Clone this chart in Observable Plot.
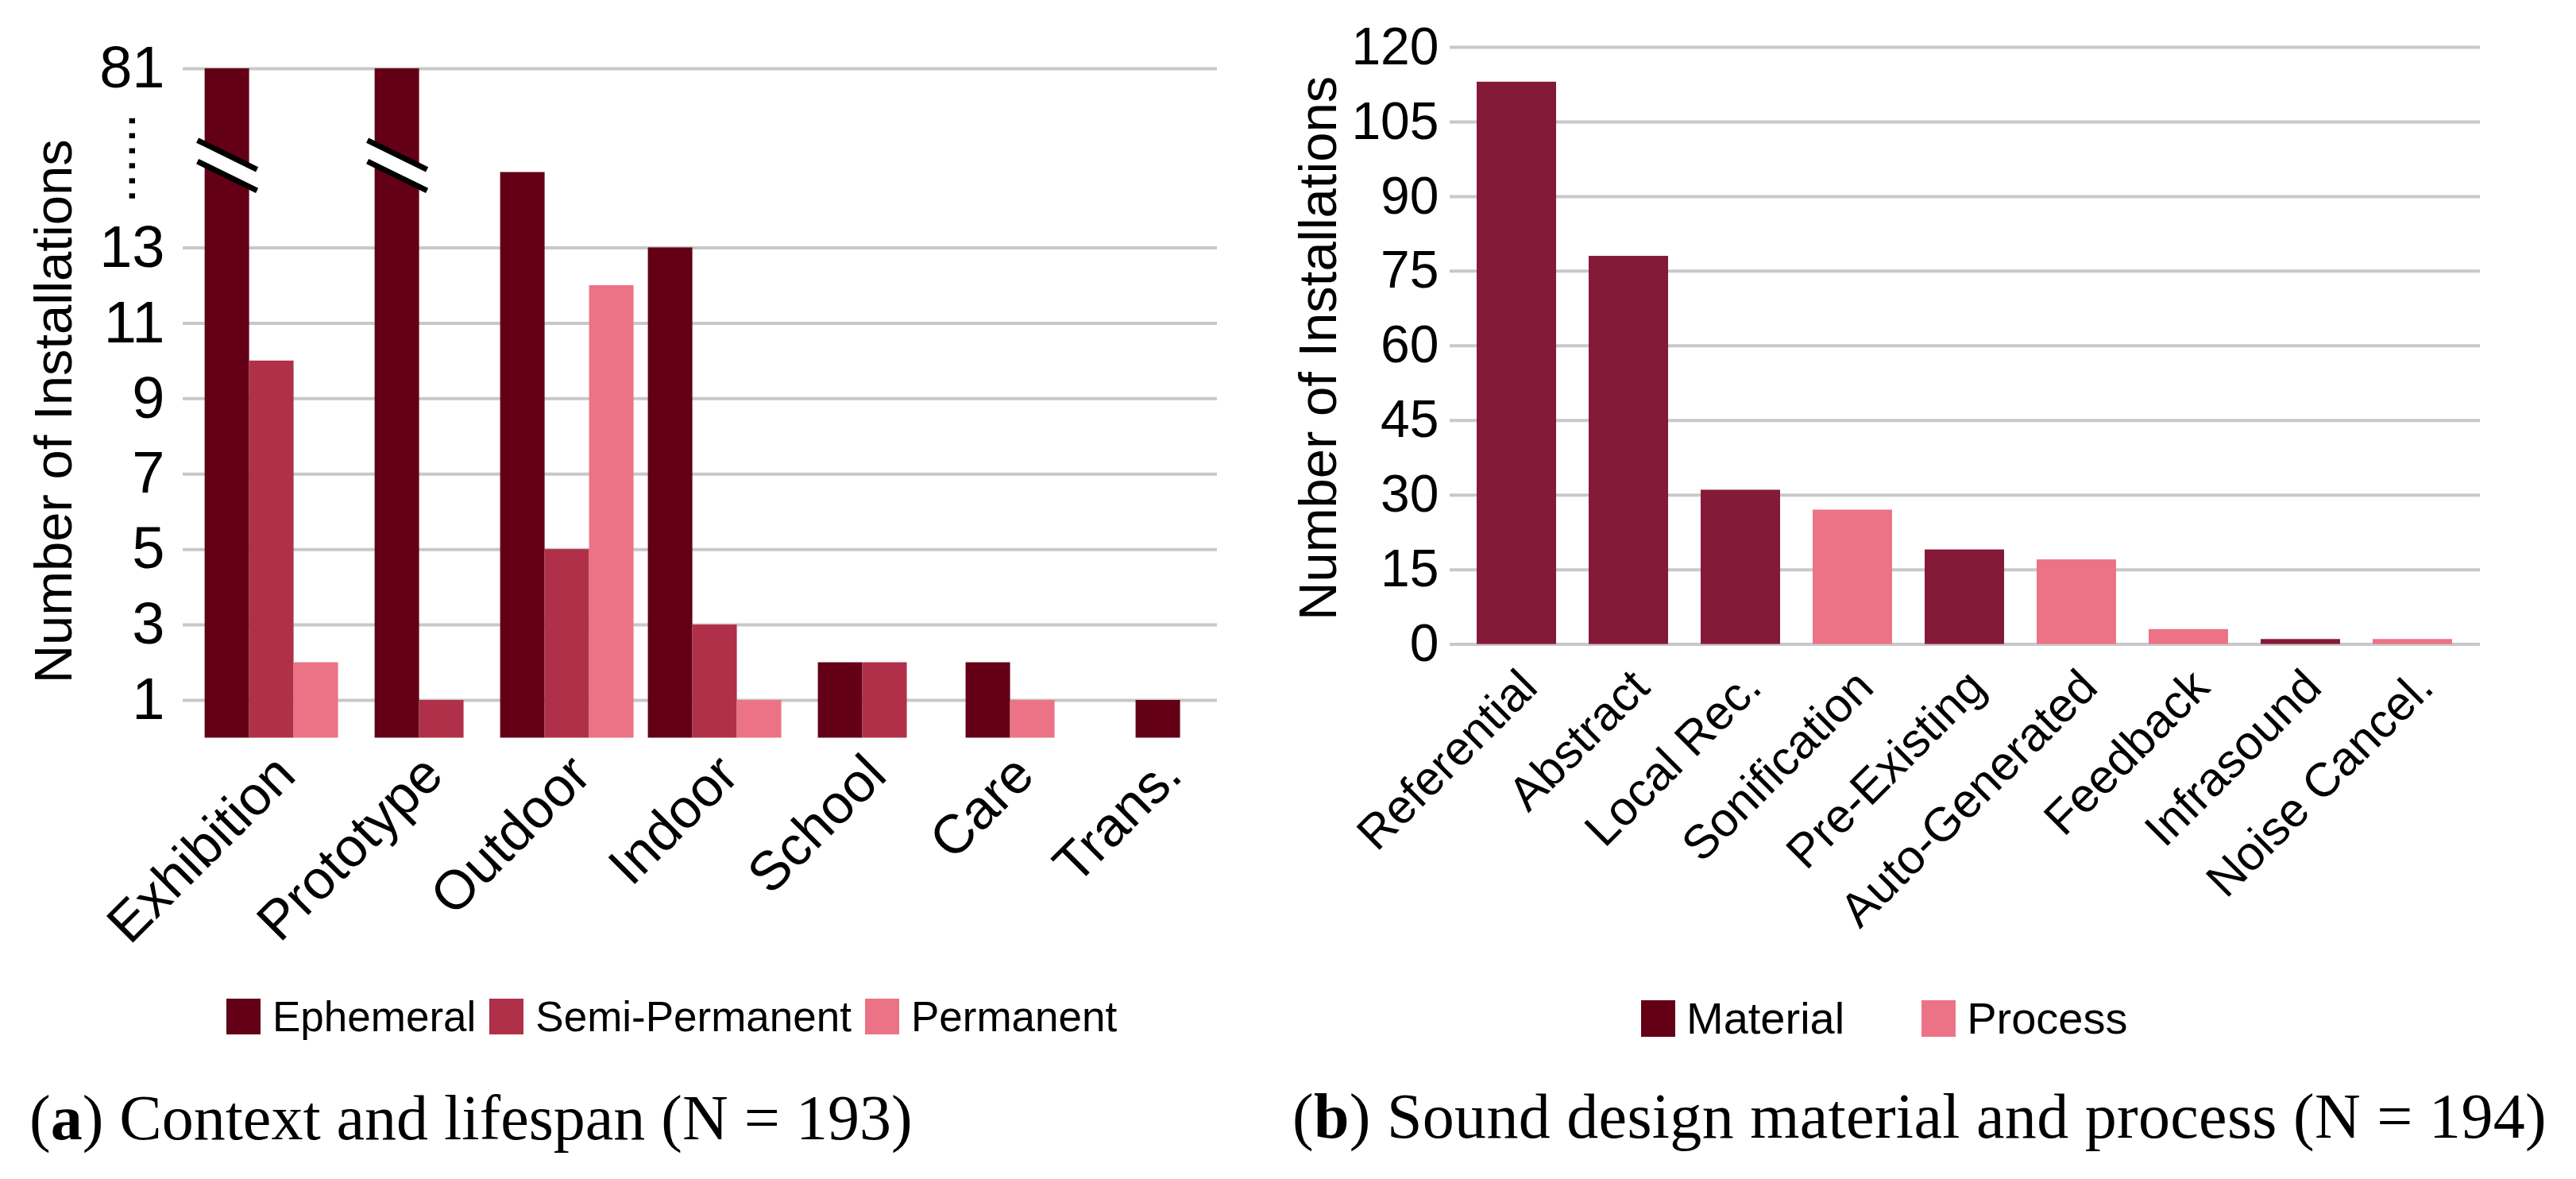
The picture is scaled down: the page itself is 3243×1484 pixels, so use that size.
<!DOCTYPE html>
<html>
<head>
<meta charset="utf-8">
<script src="https://cdn.jsdelivr.net/npm/d3@7"></script>
<script src="https://cdn.jsdelivr.net/npm/@observablehq/plot@0.6"></script>
<style>
html, body { margin: 0; padding: 0; background: #fff; }
#fig { position: relative; width: 3243px; height: 1484px; overflow: hidden; background: #fff;
       font-family: "Liberation Sans", Arial, sans-serif; color: #000; }
.panel { position: absolute; top: 0; }
.legend { position: absolute; display: flex; align-items: center; white-space: nowrap; color: #000; }
.legend .item { display: flex; align-items: center; }
.legend .sw { display: inline-block; flex: none; }
.caption { position: absolute; font-family: "Liberation Serif", "Times New Roman", serif; font-size: 80px;
           line-height: 80px; white-space: nowrap; color: #000; }
</style>
</head>
<body>
<div id="fig"></div>
<script>
// ---------------- data: (a) context and lifespan ----------------
const contexts = ["Exhibition", "Prototype", "Outdoor", "Indoor", "School", "Care", "Trans."];
const lifespans = ["Ephemeral", "Semi-Permanent", "Permanent"];
const ephemeral = [81, 42, 15, 13, 2, 2, 1];
const semiPermanent = [10, 1, 5, 3, 2, 0, 0];
const permanent = [2, 0, 12, 1, 0, 1, 0];
const lifespanColors = ["#630015", "#b03049", "#ec7386"];
const yTicksA = [1, 3, 5, 7, 9, 11, 13, 81];
const breakAt = 17.75;          // axis is broken above this value
const captionA = ["a", "Context and lifespan (N = 193)"];

// ---------------- data: (b) sound design material and process ----------------
const designCats = ["Referential", "Abstract", "Local Rec.", "Sonification", "Pre-Existing",
                    "Auto-Generated", "Feedback", "Infrasound", "Noise Cancel."];
const designValues = [113, 78, 31, 27, 19, 17, 3, 1, 1];
const designTypeOf = ["Material", "Material", "Material", "Process", "Material",
                      "Process", "Process", "Material", "Process"];
const designTypes = ["Material", "Process"];
const designColors = ["#841a37", "#ec7386"];
const designLegendColors = ["#630015", "#ec7386"];
const yTicksB = [0, 15, 30, 45, 60, 75, 90, 105, 120];
const captionB = ["b", "Sound design material and process (N = 194)"];

const yTitle = "Number of Installations";
const FONT = "'Liberation Sans', Arial, sans-serif";
const fig = document.getElementById("fig");

// ---------------- build rows for (a): empty bars are dropped, the rest centred ----------------
const slotA = 0.301;
const rowsA = [];
contexts.forEach((c, ci) => {
  const vals = [ephemeral[ci], semiPermanent[ci], permanent[ci]];
  const present = lifespans.map((s, si) => ({s, v: vals[si]})).filter(d => d.v > 0);
  const n = present.length;
  present.forEach((d, i) => {
    rowsA.push({context: c, lifespan: d.s, value: d.v,
                x1: ci + (i - n / 2) * slotA, x2: ci + (i - n / 2 + 1) * slotA});
  });
});
const broken = rowsA.filter(d => d.value > breakAt);
const breakMid = (yTicksA[yTicksA.length - 2] + breakAt) / 2;

// custom symbols for the axis-break marks (drawn slightly below the dotted gap centre)
const OFF = 9;
const breakGap = { draw(ctx) {
  ctx.moveTo(-30, -27 + OFF); ctx.lineTo(30, 2.5 + OFF); ctx.lineTo(30, 27 + OFF); ctx.lineTo(-30, -2.5 + OFF); ctx.closePath();
}};
const breakLines = { draw(ctx) {
  ctx.moveTo(-37.5, -31.7 + OFF); ctx.lineTo(37.5, 5.1 + OFF);
  ctx.moveTo(-37.5, -5.1 + OFF); ctx.lineTo(37.5, 31.7 + OFF);
}};

// ---------------- chart (a) ----------------
const WA = 1600, HA = 1240, mtA = 86, zeroA = 928.5, mlA = 230, mrA = 68;
const chartA = Plot.plot({
  width: WA, height: HA,
  marginTop: mtA, marginBottom: HA - zeroA, marginLeft: mlA, marginRight: mrA,
  style: `font-family: ${FONT}; background: transparent; color: #000; overflow: visible;`,
  x: {type: "linear", domain: [-0.6, 6.4], axis: null},
  y: {type: "linear", domain: [0, breakAt, yTicksA[yTicksA.length - 1]],
      range: [zeroA, mtA, mtA], axis: null},
  color: {domain: lifespans, range: lifespanColors},
  marks: [
    Plot.ruleY(yTicksA, {stroke: "#c8c8c8", strokeWidth: 4}),
    Plot.rectY(rowsA, {x1: "x1", x2: "x2", y1: () => 0, y2: "value", fill: "lifespan"}),
    Plot.dot(broken, {x: d => (d.x1 + d.x2) / 2, y: () => breakMid, r: 10,
                      symbol: breakGap, fill: "white", stroke: "none"}),
    Plot.dot(broken, {x: d => (d.x1 + d.x2) / 2, y: () => breakMid, r: 10,
                      symbol: breakLines, fill: "none", stroke: "black", strokeWidth: 7}),
    Plot.text(yTicksA, {y: d => d, text: d => String(d), frameAnchor: "left",
                        textAnchor: "end", dx: -23, fontSize: 74, fill: "black"}),
    Plot.text(["......"], {y: () => breakMid, text: d => d, frameAnchor: "left", rotate: -90,
                           textAnchor: "middle", lineAnchor: "bottom", dx: -61, fontSize: 68, fill: "black"}),
    Plot.text([yTitle], {text: d => d, frameAnchor: "left", rotate: -90, textAnchor: "middle",
                         dx: -162, dy: 10, fontSize: 67, fill: "black"}),
    Plot.text(contexts, {x: (d, i) => i, text: d => d, frameAnchor: "bottom", rotate: -45,
                         textAnchor: "end", lineAnchor: "bottom", dx: 33, dy: 50,
                         fontSize: 69, fill: "black"})
  ]
});
chartA.classList.add("panel");
chartA.style.left = "0px";
fig.append(chartA);

// ---------------- chart (b) ----------------
const rowsB = designCats.map((c, i) => ({cat: c, value: designValues[i], type: designTypeOf[i]}));
const WB = 1643, HB = 1200, mtB = 59, zeroB = 810.6, mlB = 225, mrB = 121;
const chartB = Plot.plot({
  width: WB, height: HB,
  marginTop: mtB, marginBottom: HB - zeroB, marginLeft: mlB, marginRight: mrB,
  style: `font-family: ${FONT}; background: transparent; color: #000; overflow: visible;`,
  x: {type: "band", domain: designCats, paddingInner: 0.29, paddingOuter: 0.24, axis: null},
  y: {domain: [0, yTicksB[yTicksB.length - 1]], axis: null},
  color: {domain: designTypes, range: designColors},
  marks: [
    Plot.ruleY(yTicksB, {stroke: "#c8c8c8", strokeWidth: 4}),
    Plot.barY(rowsB, {x: "cat", y: "value", fill: "type"}),
    Plot.text(yTicksB, {y: d => d, text: d => String(d), frameAnchor: "left",
                        textAnchor: "end", dx: -14, fontSize: 66, fill: "black"}),
    Plot.text([yTitle], {text: d => d, frameAnchor: "left", rotate: -90, textAnchor: "middle",
                         dx: -165, dy: 3, fontSize: 67, fill: "black"}),
    Plot.text(designCats, {x: d => d, text: d => d, frameAnchor: "bottom", rotate: -45,
                           textAnchor: "end", lineAnchor: "bottom", dx: 29, dy: 57,
                           fontSize: 60, fill: "black"})
  ]
});
chartB.classList.add("panel");
chartB.style.left = "1600px";
fig.append(chartB);

// ---------------- legends ----------------
function legend(items, colors, o) {
  const div = document.createElement("div");
  div.className = "legend";
  Object.assign(div.style, {left: o.left + "px", top: o.top + "px", height: o.sh + "px",
                            fontSize: o.fs + "px", gap: o.gap + "px"});
  items.forEach((t, i) => {
    const it = document.createElement("div");
    it.className = "item";
    it.style.gap = o.tg + "px";
    const sw = document.createElement("span");
    sw.className = "sw";
    sw.style.width = o.sw + "px";
    sw.style.height = o.sh + "px";
    sw.style.background = colors[i];
    const tx = document.createElement("span");
    tx.textContent = t;
    tx.style.lineHeight = o.sh + "px";
    it.append(sw, tx);
    div.append(it);
  });
  fig.append(div);
}
legend(lifespans, lifespanColors, {left: 285, top: 1257, sw: 43, sh: 45, fs: 53, tg: 15, gap: 17});
legend(designTypes, designLegendColors, {left: 2066, top: 1259, sw: 43, sh: 46, fs: 56, tg: 14, gap: 97});

// ---------------- captions ----------------
function caption(parts, left, top, spacing) {
  const div = document.createElement("div");
  div.className = "caption";
  div.style.left = left + "px";
  div.style.top = top + "px";
  div.style.letterSpacing = spacing + "px";
  const b = document.createElement("b");
  b.textContent = parts[0];
  div.append("(", b, ") " + parts[1]);
  fig.append(div);
}
caption(captionA, 37, 1367, 0);
caption(captionB, 1627, 1365, 0.3);
</script>
</body>
</html>
